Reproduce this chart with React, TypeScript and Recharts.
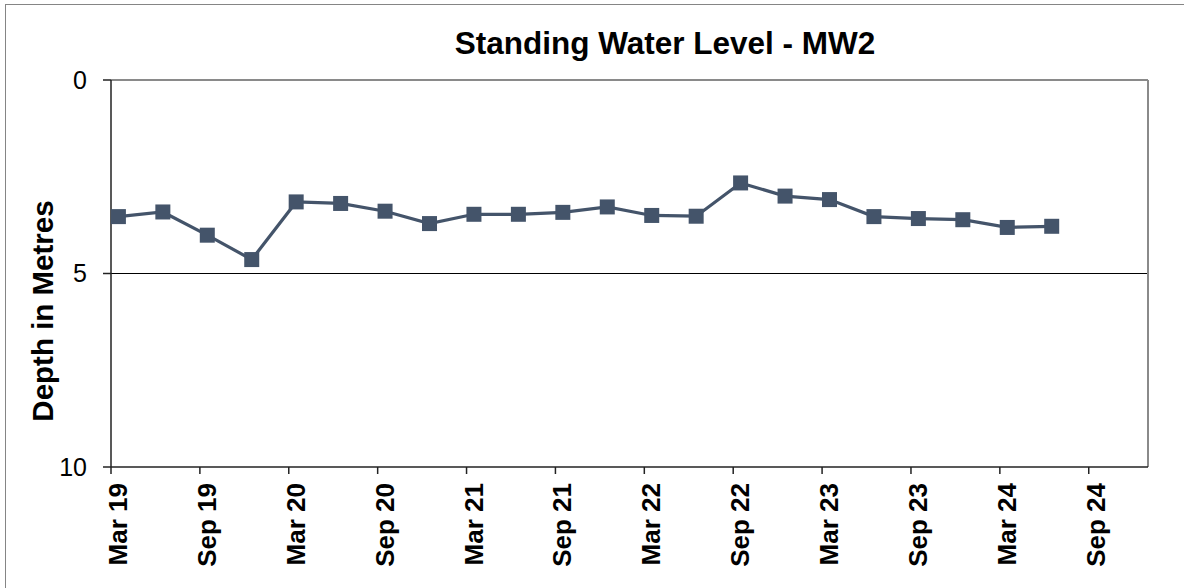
import { LineChart, Line, XAxis, YAxis, ReferenceLine } from "recharts";

// months after Mar 2019 at which readings were taken
const sampleMonths = [
  0.5, 3.5, 6.5, 9.5, 12.5, 15.5, 18.5, 21.5, 24.5, 27.5, 30.5,
  33.5, 36.5, 39.5, 42.5, 45.5, 48.5, 51.5, 54.5, 57.5, 60.5, 63.5,
];
const depths = [
  3.53, 3.41, 4.01, 4.64, 3.15, 3.19, 3.39, 3.71, 3.47, 3.47, 3.42,
  3.28, 3.5, 3.52, 2.66, 3.0, 3.09, 3.53, 3.58, 3.61, 3.81, 3.78,
];
const xTicks = [0, 6, 12, 18, 24, 30, 36, 42, 48, 54, 60, 66];
const xTickLabels = [
  "Mar 19", "Sep 19", "Mar 20", "Sep 20", "Mar 21", "Sep 21",
  "Mar 22", "Sep 22", "Mar 23", "Sep 23", "Mar 24", "Sep 24",
];
const yTicks = [0, 5, 10];

const data = sampleMonths.map((m, i) => ({ m, depth: depths[i] }));

const FONT = "'Liberation Sans', Arial, sans-serif";
const LINE = "#44546a";

const XTick = ({ x, y, payload }: any) => {
  const idx = xTicks.indexOf(payload.value);
  return (
    <g transform={`translate(${x},${y})`}>
      <text
        transform="rotate(-90)"
        x={-7}
        y={16}
        textAnchor="end"
        fontFamily={FONT}
        fontWeight="bold"
        fontSize={26}
        fill="#000"
      >
        {xTickLabels[idx]}
      </text>
    </g>
  );
};

const SquareDot = ({ cx, cy }: any) => (
  <rect x={cx - 7.5} y={cy - 7.5} width={15} height={15} fill={LINE} />
);

const App = () => {
  return (
    <div style={{ position: "absolute", left: 0, top: 0, width: 1184, height: 588, overflow: "hidden", background: "#fff" }}>
      <div
        style={{
          position: "absolute",
          left: 5,
          top: 4,
          width: 1200,
          height: 600,
          border: "1.5px solid #858585",
        }}
      />
      <LineChart
        width={1184}
        height={588}
        data={data}
        margin={{ top: 80, right: 36, bottom: 21, left: 51 }}
        style={{ position: "absolute", left: 0, top: 0 }}
      >
        <ReferenceLine y={5} stroke="#000" strokeWidth={1} />
        <ReferenceLine y={0} stroke="#8a8a8a" strokeWidth={2} />
        <ReferenceLine x={70} stroke="#8a8a8a" strokeWidth={2} />
        <XAxis
          type="number"
          dataKey="m"
          domain={[0, 70]}
          ticks={xTicks}
          interval={0}
          height={100}
          tickSize={7}
          stroke="#222"
          strokeWidth={1.5}
          tick={<XTick />}
        />
        <YAxis
          type="number"
          reversed
          domain={[0, 10]}
          ticks={yTicks}
          interval={0}
          width={60}
          tickSize={8}
          tickMargin={16}
          stroke="#222"
          strokeWidth={1.5}
          tick={{ fill: "#000", fontSize: 25, fontFamily: FONT }}
        />
        <Line
          type="linear"
          dataKey="depth"
          stroke={LINE}
          strokeWidth={3.2}
          dot={<SquareDot />}
          activeDot={false}
          isAnimationActive={false}
        />
      </LineChart>
      <svg width={1184} height={588} style={{ position: "absolute", left: 0, top: 0, pointerEvents: "none" }}>
        <text x={665} y={54} textAnchor="middle" fontFamily={FONT} fontWeight="bold" fontSize={31.5} fill="#000">
          Standing Water Level - MW2
        </text>
        <text
          transform="translate(53,311) rotate(-90)"
          textAnchor="middle"
          fontFamily={FONT}
          fontWeight="bold"
          fontSize={29.5}
          fill="#000"
        >
          Depth in Metres
        </text>
      </svg>
    </div>
  );
};

export default App;
